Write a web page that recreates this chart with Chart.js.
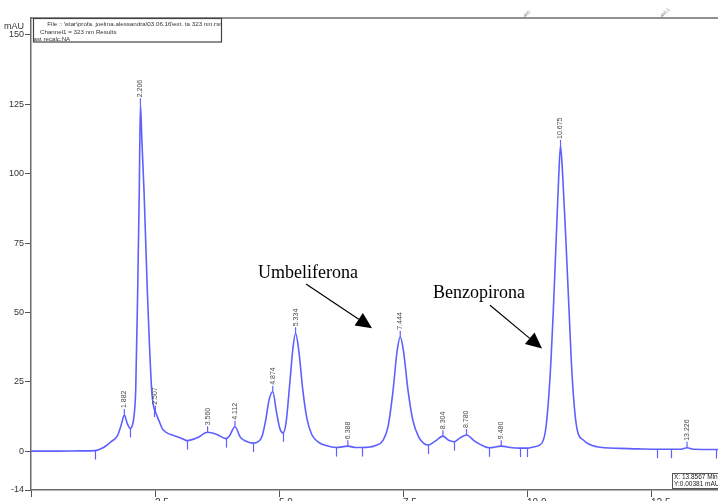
<!DOCTYPE html>
<html>
<head>
<meta charset="utf-8">
<script src="https://cdn.jsdelivr.net/npm/chart.js@4.4.1/dist/chart.umd.min.js"></script>
<style>
html, body { margin: 0; padding: 0; background: #fff; overflow: hidden; }
#wrap { width: 718px; height: 512px; }
</style>
</head>
<body>
<div id="wrap"><canvas id="chrom" width="718" height="512"></canvas></div>
<script>
// retention time (min) and absorbance (mAU)
const times = [
    0, 0.5, 1.0, 1.29, 1.45, 1.62, 1.74, 1.82, 1.882, 1.94,
    2.0, 2.06, 2.09, 2.111, 2.151, 2.183, 2.206, 2.235, 2.278, 2.345,
    2.433, 2.48, 2.507, 2.58, 2.65, 2.75, 2.9, 3.05, 3.15, 3.35,
    3.56, 3.75, 3.93, 4.0, 4.112, 4.22, 4.35, 4.476, 4.58, 4.66,
    4.73, 4.8, 4.874, 4.95, 5.02, 5.08, 5.14, 5.22, 5.28, 5.334,
    5.4, 5.48, 5.56, 5.66, 5.8, 5.95, 6.15, 6.388, 6.55, 6.67,
    6.95, 7.1, 7.2, 7.3, 7.38, 7.444, 7.51, 7.6, 7.7, 7.82,
    7.92, 8.0, 8.15, 8.304, 8.42, 8.53, 8.65, 8.78, 8.95, 9.1,
    9.24, 9.48, 9.7, 9.86, 10.0, 10.15, 10.296, 10.383, 10.464, 10.53,
    10.585, 10.639, 10.675, 10.72, 10.786, 10.847, 10.91, 11.0, 11.135, 11.405,
    11.875, 12.3, 12.62, 12.9, 13.1, 13.226, 13.35, 13.8, 13.86
];
const values = [
    0, 0, 0.1, 0.2, 1.2, 3.5, 5.5, 9.5, 13, 10,
    8.2, 10.5, 15, 22, 58, 94, 125, 112, 94, 58,
    22, 15.5, 14.2, 11, 8, 6.5, 5.5, 4.5, 3.8, 4.8,
    6.8, 6, 4.5, 5.5, 8.8, 5, 3.5, 2.9, 3.4, 5.5,
    11, 18.5, 21.4, 14, 8, 6.6, 10, 25, 37, 42.5,
    36, 22, 12, 6, 3.2, 2, 1.3, 1.8, 1.3, 1.3,
    2, 4, 9, 22, 36, 41.2, 36, 22, 11, 5,
    2.8, 2.2, 3.6, 5.4, 3.9, 3.4, 4.8, 5.8, 3.5, 2,
    1.2, 1.8, 1.2, 1.1, 1.1, 1.6, 2.8, 8.8, 26.8, 50.8,
    75, 99, 110, 99, 75, 50.8, 26.8, 8.8, 4, 1.6,
    1, 0.8, 0.7, 0.7, 0.7, 1.2, 0.7, 0.6, 0.6
];
const peakTimes = [1.882, 2.206, 2.507, 3.56, 4.112, 4.874, 5.334, 6.388, 7.444, 8.304, 8.78, 9.48, 10.675, 13.226];
const markerTimes = [1.29, 2.0, 2.48, 3.15, 3.93, 4.476, 5.08, 6.15, 6.67, 8.0, 8.53, 9.24, 9.86, 10.0, 12.62, 12.9, 13.8];
const yTicks = [-14, 0, 25, 50, 75, 100, 125, 150];
const xTicks = [0, 2.5, 5, 7.5, 10, 12.5];
const eventTimes = [9.96, 12.72];
const eventLabels = ['WI:', 'WI:1'];

const traceColor = 'rgb(95,95,255)';
const axisColor = '#6b6b6b';
const sans = '"Liberation Sans", Arial, sans-serif';

function arrow(ctx, x0, y0, x1, y1) {
    const dx = x1 - x0, dy = y1 - y0;
    const len = Math.hypot(dx, dy);
    const ux = dx / len, uy = dy / len;
    const hl = 16, hw = 7.5;
    const bx = x1 - ux * hl, by = y1 - uy * hl;
    ctx.beginPath();
    ctx.moveTo(x0, y0);
    ctx.lineTo(bx, by);
    ctx.stroke();
    ctx.beginPath();
    ctx.moveTo(x1, y1);
    ctx.lineTo(bx - uy * hw, by + ux * hw);
    ctx.lineTo(bx + uy * hw, by - ux * hw);
    ctx.closePath();
    ctx.fill();
}

const overlay = {
    id: 'overlay',
    afterDatasetsDraw(chart) {
        const {ctx, scales: {x, y}} = chart;
        ctx.save();
        ctx.strokeStyle = traceColor;
        ctx.lineWidth = 1.2;
        // integration start/end marks
        markerTimes.forEach(t => {
            const v = values[times.indexOf(t)];
            const px = Math.round(x.getPixelForValue(t)) + 0.5;
            const py = y.getPixelForValue(v);
            ctx.beginPath();
            ctx.moveTo(px, py);
            ctx.lineTo(px, py + 9);
            ctx.stroke();
        });
        // peak retention time labels
        ctx.font = '7px ' + sans;
        ctx.fillStyle = '#4a4a4a';
        ctx.textAlign = 'left';
        ctx.textBaseline = 'middle';
        peakTimes.forEach(t => {
            const v = values[times.indexOf(t)];
            const px = x.getPixelForValue(t);
            const py = y.getPixelForValue(v);
            ctx.beginPath();
            ctx.moveTo(px, py);
            ctx.lineTo(px, py - 6);
            ctx.stroke();
            ctx.save();
            ctx.translate(px, py - 7);
            ctx.rotate(-Math.PI / 2);
            ctx.fillText(t.toFixed(3), 0, 0);
            ctx.restore();
        });
        ctx.restore();
    },
    afterDraw(chart) {
        const {ctx, chartArea: a, scales: {x, y}} = chart;
        ctx.save();
        // top frame line
        ctx.strokeStyle = axisColor;
        ctx.lineWidth = 1.5;
        ctx.beginPath();
        ctx.moveTo(a.left, a.top);
        ctx.lineTo(a.right, a.top);
        ctx.stroke();

        // timed events on the top line
        ctx.fillStyle = '#888';
        ctx.strokeStyle = '#888';
        ctx.lineWidth = 1;
        ctx.font = '5px ' + sans;
        eventTimes.forEach((t, i) => {
            const px = x.getPixelForValue(t);
            ctx.beginPath();
            ctx.moveTo(px, a.top - 3);
            ctx.lineTo(px, a.top);
            ctx.stroke();
            ctx.save();
            ctx.translate(px, a.top - 2);
            ctx.rotate(-Math.PI / 4);
            ctx.textAlign = 'left';
            ctx.textBaseline = 'middle';
            ctx.fillText(eventLabels[i], 0, 0);
            ctx.restore();
        });

        // y unit
        ctx.fillStyle = '#333';
        ctx.font = '9px ' + sans;
        ctx.textAlign = 'left';
        ctx.textBaseline = 'middle';
        ctx.fillText('mAU', 4, 27);

        // file info box
        ctx.fillStyle = '#fff';
        ctx.fillRect(a.left + 2, a.top + 1, 188, 23);
        ctx.strokeStyle = '#444';
        ctx.lineWidth = 1.2;
        ctx.strokeRect(a.left + 2.5, a.top + 0.5, 188, 23.5);
        ctx.save();
        ctx.beginPath();
        ctx.rect(a.left + 2, a.top, 189, 25);
        ctx.clip();
        ctx.fillStyle = '#333';
        ctx.font = '6.2px ' + sans;
        ctx.textBaseline = 'middle';
        ctx.textAlign = 'center';
        ctx.fillText('File :: \\star\\profa. joelma.alessandra\\03.06.16\\ext. ta 323 nm.rsn', a.left + 104, a.top + 6.5);
        ctx.textAlign = 'left';
        ctx.fillText('Channel1 = 323 nm Results', a.left + 9, a.top + 14);
        ctx.fillText('Last recalc:NA', a.left - 1, a.top + 21);
        ctx.restore();

        // cursor readout box
        ctx.fillStyle = '#fff';
        ctx.fillRect(a.right - 46, a.bottom - 17, 50, 16);
        ctx.strokeStyle = '#555';
        ctx.lineWidth = 1;
        ctx.strokeRect(a.right - 45.5, a.bottom - 16.5, 50, 15);
        ctx.fillStyle = '#222';
        ctx.font = '6.5px ' + sans;
        ctx.textAlign = 'left';
        ctx.textBaseline = 'middle';
        ctx.fillText('X: 13.8567 Minutes', a.right - 44, a.bottom - 12.5);
        ctx.fillText('Y:0.00381 mAU', a.right - 44, a.bottom - 5.5);

        // compound annotations
        ctx.fillStyle = '#000';
        ctx.strokeStyle = '#000';
        ctx.lineWidth = 1.2;
        ctx.font = '18px "Liberation Serif", "Times New Roman", serif';
        ctx.textAlign = 'left';
        ctx.textBaseline = 'middle';
        ctx.fillText('Umbeliferona', x.getPixelForValue(4.577), y.getPixelForValue(64.2));
        ctx.fillText('Benzopirona', x.getPixelForValue(8.105), y.getPixelForValue(57.0));
        arrow(ctx, x.getPixelForValue(5.544), y.getPixelForValue(60.2), x.getPixelForValue(6.875), y.getPixelForValue(44.3));
        arrow(ctx, x.getPixelForValue(9.254), y.getPixelForValue(52.6), x.getPixelForValue(10.302), y.getPixelForValue(36.95));
        ctx.restore();
    }
};

new Chart(document.getElementById('chrom'), {
    type: 'line',
    data: {
        datasets: [{
            data: times.map((t, i) => ({x: t, y: values[i]})),
            borderColor: traceColor,
            borderWidth: 1.6,
            pointRadius: 0,
            fill: false,
            tension: 0.4,
            cubicInterpolationMode: 'monotone'
        }]
    },
    options: {
        responsive: false,
        animation: false,
        devicePixelRatio: 1,
        layout: {padding: {top: 18, right: 0, left: 0, bottom: 0}},
        plugins: {legend: {display: false}, tooltip: {enabled: false}},
        scales: {
            x: {
                type: 'linear',
                min: 0,
                max: 13.85,
                afterFit: s => { s.height = 22; },
                afterBuildTicks: s => { s.ticks = xTicks.map(v => ({value: v})); },
                grid: {drawOnChartArea: false, drawTicks: true, tickLength: 7, tickColor: '#555', lineWidth: 1},
                border: {display: true, color: axisColor, width: 1.5},
                ticks: {
                    align: 'start',
                    padding: 0,
                    autoSkip: false,
                    maxRotation: 0,
                    color: '#333',
                    font: {family: sans, size: 10},
                    callback: v => v === 0 ? '' : v.toFixed(1)
                }
            },
            y: {
                min: -14,
                max: 156.1,
                afterFit: s => { s.width = 31; },
                afterBuildTicks: s => { s.ticks = yTicks.map(v => ({value: v})); },
                grid: {drawOnChartArea: false, drawTicks: true, tickLength: 6, tickColor: '#555', lineWidth: 1},
                border: {display: true, color: axisColor, width: 1.5},
                ticks: {
                    padding: 1,
                    color: '#333',
                    font: {family: sans, size: 9},
                    callback: v => v === -14 ? '-14' : String(v)
                }
            }
        }
    },
    plugins: [overlay]
});
</script>
</body>
</html>
